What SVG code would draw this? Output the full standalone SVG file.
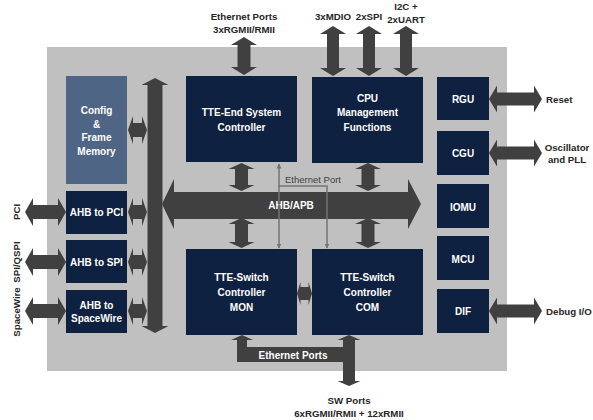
<svg xmlns="http://www.w3.org/2000/svg" width="593" height="420" viewBox="0 0 593 420">
<style>
.bg{fill:#c0c0c0}
.box{fill:#0f2140}
.mem{fill:#4f6586}
.ar{fill:#404040}
.bt{font-family:"Liberation Sans",Arial,sans-serif;font-weight:bold;font-size:10px;fill:#ffffff;text-anchor:middle;dominant-baseline:central}
.lt{font-family:"Liberation Sans",Arial,sans-serif;font-weight:bold;font-size:9.7px;fill:#262626;text-anchor:middle;dominant-baseline:central}
.ln{fill:none;stroke:#737373;stroke-width:1.5}
.eth{font-family:"Liberation Sans",Arial,sans-serif;font-size:9.5px;fill:#404040}
</style>
<defs>
<marker id="ah" viewBox="0 0 10 10" refX="9" refY="5" markerWidth="5" markerHeight="6" orient="auto-start-reverse" markerUnits="userSpaceOnUse">
<path d="M0,0 L10,5 L0,10 Z" fill="#737373"/>
</marker>
</defs>
<rect class="bg" x="47" y="47" width="460" height="324"/>

<g id="connectors">
<polygon class="ar" points="244,37 257,45 250.5,45 250.5,67 257,67 244,75 231,67 237.5,67 237.5,45 231,45"/>
<polygon class="ar" points="333,26 346,34 339,34 339,68 346,68 333,76 320,68 327,68 327,34 320,34"/>
<polygon class="ar" points="369,26 382,34 375,34 375,68 382,68 369,76 356,68 363,68 363,34 356,34"/>
<polygon class="ar" points="406,26 419,34 412,34 412,68 419,68 406,76 393,68 400,68 400,34 393,34"/>
<polygon class="ar" points="155,78 168.5,85 162.5,85 162.5,326 168.5,326 155,333 141.5,326 147.5,326 147.5,85 141.5,85"/>
<polygon class="ar" points="162,204 174,179 174,192 408,192 408,179 421,204 408,229 408,219 174,219 174,229"/>
<polygon class="ar" points="241.5,163 254.5,169 248,169 248,185 254.5,185 241.5,191 228.5,185 235,185 235,169 228.5,169"/>
<polygon class="ar" points="241.5,218 254.5,224 248,224 248,242 254.5,242 241.5,248 228.5,242 235,242 235,224 228.5,224"/>
<polygon class="ar" points="368,163 381,169 374.5,169 374.5,185 381,185 368,191 355,185 361.5,185 361.5,169 355,169"/>
<polygon class="ar" points="368,218 381,224 374.5,224 374.5,242 381,242 368,248 355,242 361.5,242 361.5,224 355,224"/>
<polygon class="ar" points="128,130 133,116 133,123 142,123 142,116 147,130 142,144 142,137 133,137 133,144"/>
<polygon class="ar" points="128,212 133,198 133,205 142,205 142,198 147,212 142,226 142,219 133,219 133,226"/>
<polygon class="ar" points="128,262 133,248 133,255 142,255 142,248 147,262 142,276 142,269 133,269 133,276"/>
<polygon class="ar" points="128,311 133,297 133,304 142,304 142,297 147,311 142,325 142,318 133,318 133,325"/>
<polygon class="ar" points="25,212 33,198 33,205 58,205 58,198 66,212 58,226 58,219 33,219 33,226"/>
<polygon class="ar" points="25,262 33,248 33,255 58,255 58,248 66,262 58,276 58,269 33,269 33,276"/>
<polygon class="ar" points="25,311 33,297 33,304 58,304 58,297 66,311 58,325 58,318 33,318 33,325"/>
<polygon class="ar" points="489,99 497,85.5 497,92.5 534,92.5 534,85.5 542,99 534,112.5 534,105.5 497,105.5 497,112.5"/>
<polygon class="ar" points="489,153 497,139.5 497,146.5 534,146.5 534,139.5 542,153 534,166.5 534,159.5 497,159.5 497,166.5"/>
<polygon class="ar" points="489,311 497,297.5 497,304.5 534,304.5 534,297.5 542,311 534,324.5 534,317.5 497,317.5 497,324.5"/>
<polygon class="ar" points="297,293.5 300.5,282 300.5,287 308.5,287 308.5,282 312,293.5 308.5,305 308.5,300 300.5,300 300.5,305"/>
<polygon class="ar" points="242,335 253,340 247,340 247,347 343,347 343,362 237,362 237,340 231,340"/>
<polygon class="ar" points="349,335 360.5,340 355,340 355,381 360.5,381 349,386 337.5,381 343,381 343,340 337.5,340"/>
<text class="bt" x="293" y="355">Ethernet Ports</text>
<text class="bt" x="291" y="205">AHB/APB</text>
<line class="ln" x1="279" y1="164" x2="279" y2="248" marker-start="url(#ah)" marker-end="url(#ah)"/>
<polyline class="ln" points="279,186 327,186 327,248" marker-end="url(#ah)"/>
<text class="eth" x="285" y="183">Ethernet Port</text>
</g>

<g id="config-memory"><rect class="mem" x="66" y="76" width="61" height="108"/>
<text class="bt" x="96.5" y="110">Config</text><text class="bt" x="96.5" y="124">&amp;</text><text class="bt" x="96.5" y="137">Frame</text><text class="bt" x="96.5" y="151">Memory</text></g>

<g id="tte-end"><rect class="box" x="186" y="76" width="111" height="86"/>
<text class="bt" x="241.5" y="112">TTE-End System</text><text class="bt" x="241.5" y="127">Controller</text></g>

<g id="cpu"><rect class="box" x="312" y="77" width="111" height="86"/>
<text class="bt" x="367.5" y="98">CPU</text><text class="bt" x="367.5" y="112">Management</text><text class="bt" x="367.5" y="127">Functions</text></g>

<g id="rgu"><rect class="box" x="437" y="77" width="52" height="43"/><text class="bt" x="463" y="99">RGU</text></g>
<g id="cgu"><rect class="box" x="437" y="131" width="52" height="44"/><text class="bt" x="463" y="153">CGU</text></g>
<g id="iomu"><rect class="box" x="437" y="184" width="52" height="44"/><text class="bt" x="463" y="207">IOMU</text></g>
<g id="mcu"><rect class="box" x="437" y="236" width="52" height="44"/><text class="bt" x="463" y="259">MCU</text></g>
<g id="dif"><rect class="box" x="437" y="289" width="52" height="44"/><text class="bt" x="463" y="311">DIF</text></g>

<g id="ahb-pci"><rect class="box" x="66" y="191" width="61" height="43"/><text class="bt" x="96.5" y="212">AHB to PCI</text></g>
<g id="ahb-spi"><rect class="box" x="66" y="240" width="61" height="43"/><text class="bt" x="96.5" y="262">AHB to SPI</text></g>
<g id="ahb-spacewire"><rect class="box" x="66" y="290" width="61" height="43"/><text class="bt" x="96.5" y="305">AHB to</text><text class="bt" x="96.5" y="318">SpaceWire</text></g>

<g id="tte-switch-mon"><rect class="box" x="186" y="249" width="111" height="86"/>
<text class="bt" x="241.5" y="277">TTE-Switch</text><text class="bt" x="241.5" y="292">Controller</text><text class="bt" x="241.5" y="307">MON</text></g>
<g id="tte-switch-com"><rect class="box" x="312" y="249" width="111" height="86"/>
<text class="bt" x="367.5" y="277">TTE-Switch</text><text class="bt" x="367.5" y="292">Controller</text><text class="bt" x="367.5" y="307">COM</text></g>

<g id="labels">
<text class="lt" x="244" y="16">Ethernet Ports</text>
<text class="lt" x="244" y="29">3xRGMII/RMII</text>
<text class="lt" x="333" y="16">3xMDIO</text>
<text class="lt" x="369" y="16">2xSPI</text>
<text class="lt" x="406" y="6">I2C +</text>
<text class="lt" x="406" y="19">2xUART</text>
<text class="lt" x="546" y="99" style="text-anchor:start">Reset</text>
<text class="lt" x="567" y="147">Oscillator</text>
<text class="lt" x="567" y="159">and PLL</text>
<text class="lt" x="546" y="311" style="text-anchor:start">Debug I/O</text>
<text class="lt" x="349" y="400">SW Ports</text>
<text class="lt" x="349" y="413">6xRGMII/RMII + 12xRMII</text>
<text class="lt" transform="translate(16,212) rotate(-90)">PCI</text>
<text class="lt" transform="translate(16,262) rotate(-90)">SPI/QSPI</text>
<text class="lt" transform="translate(16,312) rotate(-90)">SpaceWire</text>
</g>
</svg>
